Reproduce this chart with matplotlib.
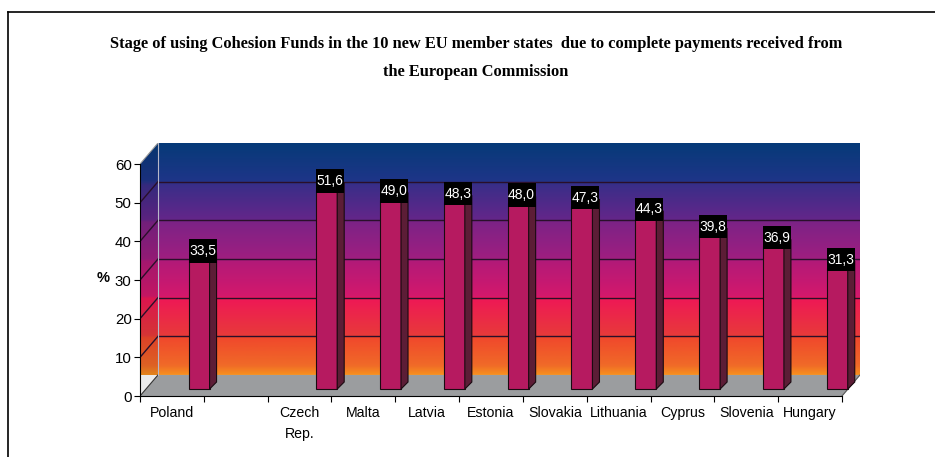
import matplotlib.pyplot as plt
import numpy as np
from matplotlib.colors import LinearSegmentedColormap
from matplotlib.patches import Polygon, Rectangle
from matplotlib.lines import Line2D

# data
countries = ['Poland', '', 'Czech\nRep.', 'Malta', 'Latvia', 'Estonia',
             'Slovakia', 'Lithuania', 'Cyprus', 'Slovenia', 'Hungary']
values = [33.5, np.nan, 51.6, 49.0, 48.3, 48.0, 47.3, 44.3, 39.8, 36.9, 31.3]
yticks = [0, 10, 20, 30, 40, 50, 60]

title = ('Stage of using Cohesion Funds in the 10 new EU member states  due to complete payments received from\n'
         'the European Commission')

W, H = 935, 457
fig = plt.figure(figsize=(W / 100, H / 100), dpi=100)
fig.patch.set_facecolor('white')
sans = ['Liberation Sans', 'DejaVu Sans']

n = len(countries)
ymax = 60
# 3d depth offsets (in data units)
dx = 18 / 63.8
dy = 21 / 3.86

x0, x1 = 140, 860
y0, y1 = 396, 143
ax = fig.add_axes([x0 / W, (H - y0) / H, (x1 - x0) / W, (y0 - y1) / H])
ax.set_xlim(0, n + dx)
ax.set_ylim(0, ymax + dy)
ax.patch.set_alpha(0)

# gradient walls (banded like the excel fill)
cmap = LinearSegmentedColormap.from_list('wall', [
    (0.00, '#f7901e'),
    (0.04, '#f06a28'),
    (0.16, '#f0482c'),
    (0.17, '#e83a3a'),
    (0.33, '#ee1856'),
    (0.34, '#d4186c'),
    (0.49, '#b21a78'),
    (0.50, '#a01e80'),
    (0.66, '#7c2386'),
    (0.67, '#64268a'),
    (0.82, '#3a2e88'),
    (0.84, '#1e3588'),
    (1.00, '#063a78'),
])
grad = np.linspace(0, 1, 512).reshape(-1, 1)
im = ax.imshow(grad, cmap=cmap, origin='lower', aspect='auto',
               extent=[0, n + dx, dy, ymax + dy], zorder=0)
walls = Polygon([(0, 0), (dx, dy), (n + dx, dy), (n + dx, ymax + dy),
                 (dx, ymax + dy), (0, ymax)], closed=True,
                transform=ax.transData, facecolor='none', edgecolor='none')
ax.add_patch(walls)
im.set_clip_path(walls)

# darker shade over the left wall
ax.add_patch(Polygon([(0, 0), (dx, dy), (dx, ymax + dy), (0, ymax)],
                     closed=True, facecolor='black', alpha=0.08,
                     edgecolor='none', zorder=1))

# floor
ax.add_patch(Polygon([(0, 0), (n, 0), (n + dx, dy), (dx, dy)], closed=True,
                     facecolor='#9b9d9f', edgecolor='none', zorder=1))
ax.plot([n, n + dx], [0, dy], color='#555555', lw=0.8, zorder=2)

# gridlines
for v in yticks[1:-1]:
    ax.plot([dx, n + dx], [v + dy, v + dy], color='#2a0f2a', lw=1.0, zorder=2)
    ax.plot([0, dx], [v, v + dy], color='#2a0f2a', lw=1.0, zorder=2)
ax.plot([0, dx], [0, dy], color='#333333', lw=0.8, zorder=2)
ax.plot([0, dx], [ymax, ymax + dy], color='#999999', lw=0.8, zorder=2)
ax.plot([dx, dx], [dy, ymax + dy], color='#b8b8c8', lw=0.8, zorder=2)

# bars
base = 1.8
bw = 0.33
off = 0.76
sdx = 7 / 63.8
sdy = 7 / 3.86
for i, v in enumerate(values):
    if np.isnan(v):
        continue
    left = i + off
    ax.bar(left, v, width=bw, bottom=base, align='edge', color='#b61a60',
           edgecolor='#1a0a10', linewidth=0.8, zorder=3)
    top = base + v
    ax.add_patch(Polygon([(left + bw, base), (left + bw + sdx, base + sdy),
                          (left + bw + sdx, top + sdy), (left + bw, top)],
                         closed=True, facecolor='#5c1d36',
                         edgecolor='#1a0a10', lw=0.8, zorder=3))
    ax.add_patch(Rectangle((left, top - 0.8), bw + sdx, 6.0,
                           facecolor='black', edgecolor='none', zorder=4))
    ax.text(left + (bw + sdx) / 2, top - 0.8 + 3.0,
            f'{v:.1f}'.replace('.', ','), color='white', ha='center',
            va='center', fontsize=10, family=sans, zorder=5)

# axes
for s in ['top', 'right']:
    ax.spines[s].set_visible(False)
ax.spines['left'].set_bounds(0, ymax)
ax.spines['bottom'].set_bounds(0, n)
ax.spines['left'].set_zorder(6)
ax.spines['bottom'].set_zorder(6)
ax.set_yticks(yticks)
ax.set_yticklabels([str(t) for t in yticks])
ax.set_xticks(np.arange(0, n + 1))
ax.set_xticklabels([])
ax.set_xticks(np.arange(n) + 0.5, minor=True)
ax.set_xticklabels(countries, minor=True)
ax.tick_params(axis='x', which='major', length=4, direction='out')
ax.tick_params(axis='x', which='minor', length=0, pad=7)
ax.tick_params(axis='y', length=4, direction='out', pad=2)
for lab in ax.get_xticklabels(minor=True):
    lab.set_family(sans)
    lab.set_fontsize(10.2)
    lab.set_linespacing(1.65)
    lab.set_verticalalignment('top')
for lab in ax.get_yticklabels():
    lab.set_family(sans)
    lab.set_fontsize(10.8)

fig.text(103 / W, 1 - 278 / H, '%', fontsize=10.5, fontweight='bold',
         family=sans, ha='center', va='center')

fig.text(476 / W, 1 - 58 / H, title, fontsize=11.8, fontweight='bold',
         family=['Liberation Serif', 'DejaVu Serif'], ha='center',
         va='center', linespacing=2.0)

# outer frame
fig.add_artist(Line2D([8 / W, 8 / W], [0, 1 - 12 / H], color='black', lw=1.2))
fig.add_artist(Line2D([8 / W, 1], [1 - 12 / H, 1 - 12 / H], color='black', lw=1.2))

fig.savefig('out.png', dpi=100)
